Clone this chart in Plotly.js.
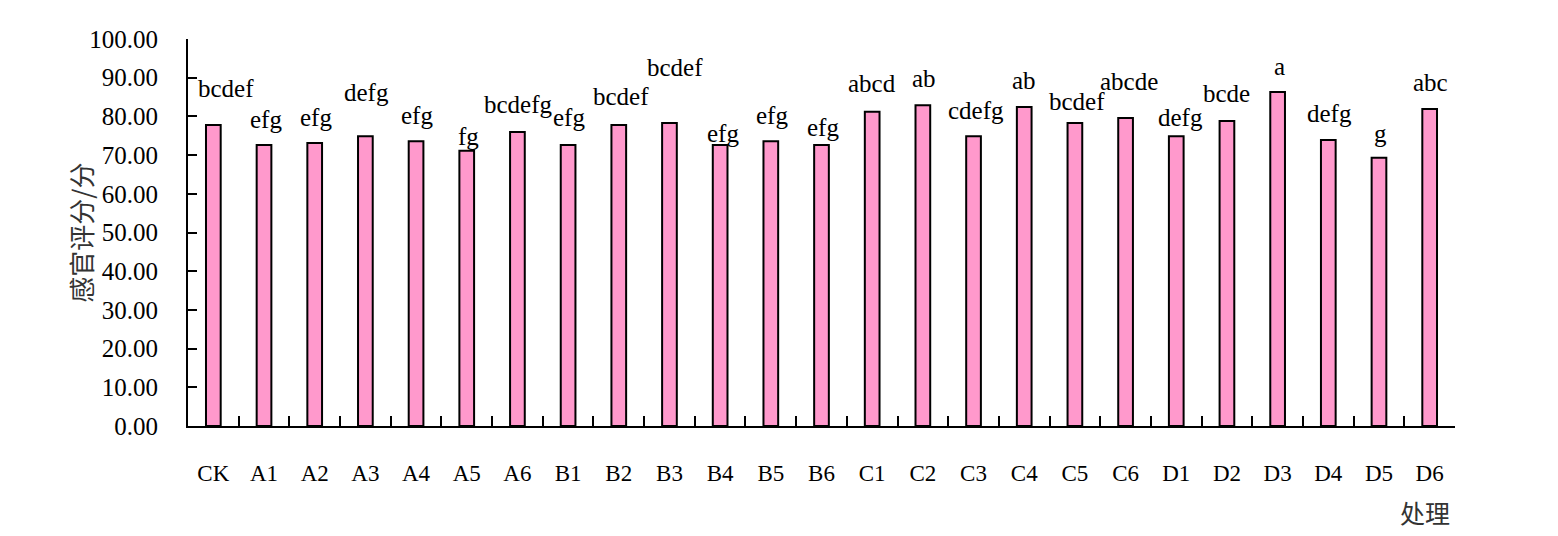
<!DOCTYPE html>
<html>
<head>
<meta charset="utf-8">
<script src="https://cdn.plot.ly/plotly-3.0.1.min.js"></script>
<style>html,body{margin:0;padding:0;background:#fff;}#chart{width:1558px;height:536px;}</style>
</head>
<body>
<div id="chart"></div>
<script>
// ---- data ----
const categories = ["CK","A1","A2","A3","A4","A5","A6","B1","B2","B3","B4","B5","B6","C1","C2","C3","C4","C5","C6","D1","D2","D3","D4","D5","D6"];
const scores = [77.8,72.6,73.1,74.9,73.6,71.1,76.0,72.6,77.8,78.3,72.6,73.6,72.6,81.2,82.9,74.9,82.4,78.3,79.6,74.9,78.8,86.3,73.9,69.3,81.9];
const sigLetters = ["bcdef","efg","efg","defg","efg","fg","bcdefg","efg","bcdef","bcdef","efg","efg","efg","abcd","ab","cdefg","ab","bcdef","abcde","defg","bcde","a","defg","g","abc"];
const yTickVals = [0,10,20,30,40,50,60,70,80,90,100];
const yTitle = "感官评分/分";
const xTitle = "处理";

// ---- label placement (pixel offsets above each bar, layout only) ----
const labelYShift = [36,26,26,44,26,14,27,28,28,55,12,26,18,28,27,26,27,21,36,19,28,26,27,24,27];
const labelXShift = [13,2,1,1,1,2,1,1,2,6,3,1,1,0,1,2,0,2,3,4,0,2,1,2,1];

const serif = "'Liberation Serif', 'Times New Roman', serif";
const cjk = "'Noto Sans CJK SC', sans-serif";

const trace = {
  type: "bar",
  x: categories,
  y: scores,
  width: 0.29,
  marker: {color: "#FF99CC", line: {color: "#000000", width: 2}},
  hoverinfo: "x+y"
};

const annotations = categories.map((c, i) => ({
  x: c, y: scores[i], xref: "x", yref: "y",
  text: sigLetters[i], showarrow: false,
  xanchor: "center", yanchor: "middle",
  xshift: labelXShift[i], yshift: labelYShift[i],
  font: {family: serif, size: 25, color: "#000"}
}));

annotations.push({
  xref: "paper", yref: "paper", x: -0.085, y: 0.5,
  text: yTitle, textangle: -90, showarrow: false,
  xanchor: "center", yanchor: "middle",
  font: {family: cjk, size: 26, color: "#333"}
});
annotations.push({
  xref: "paper", yref: "paper", x: 0.976, y: -0.222,
  text: xTitle, showarrow: false,
  xanchor: "center", yanchor: "middle",
  font: {family: cjk, size: 25, color: "#333"}
});

const layout = {
  width: 1558, height: 536,
  margin: {l: 188, r: 103, t: 39, b: 110, pad: 0},
  paper_bgcolor: "#fff", plot_bgcolor: "#fff",
  font: {family: serif, color: "#000"},
  showlegend: false,
  xaxis: {
    type: "category",
    showline: true, linecolor: "#000", linewidth: 2,
    ticks: "inside", ticklen: 10, tickwidth: 2, tickcolor: "#000",
    tickson: "boundaries",
    showgrid: false, zeroline: false,
    ticklabelstandoff: 25,
    tickfont: {family: serif, size: 23, color: "#000"}
  },
  yaxis: {
    range: [0, 100],
    tickvals: yTickVals,
    ticktext: yTickVals.map(v => v.toFixed(2)),
    showline: true, linecolor: "#000", linewidth: 2,
    ticks: "inside", ticklen: 9, tickwidth: 2, tickcolor: "#000",
    showgrid: false, zeroline: false,
    ticklabelstandoff: 23,
    tickfont: {family: serif, size: 25, color: "#000"}
  },
  annotations: annotations
};

Plotly.newPlot("chart", [trace], layout, {displayModeBar: false, staticPlot: true});
</script>
</body>
</html>
